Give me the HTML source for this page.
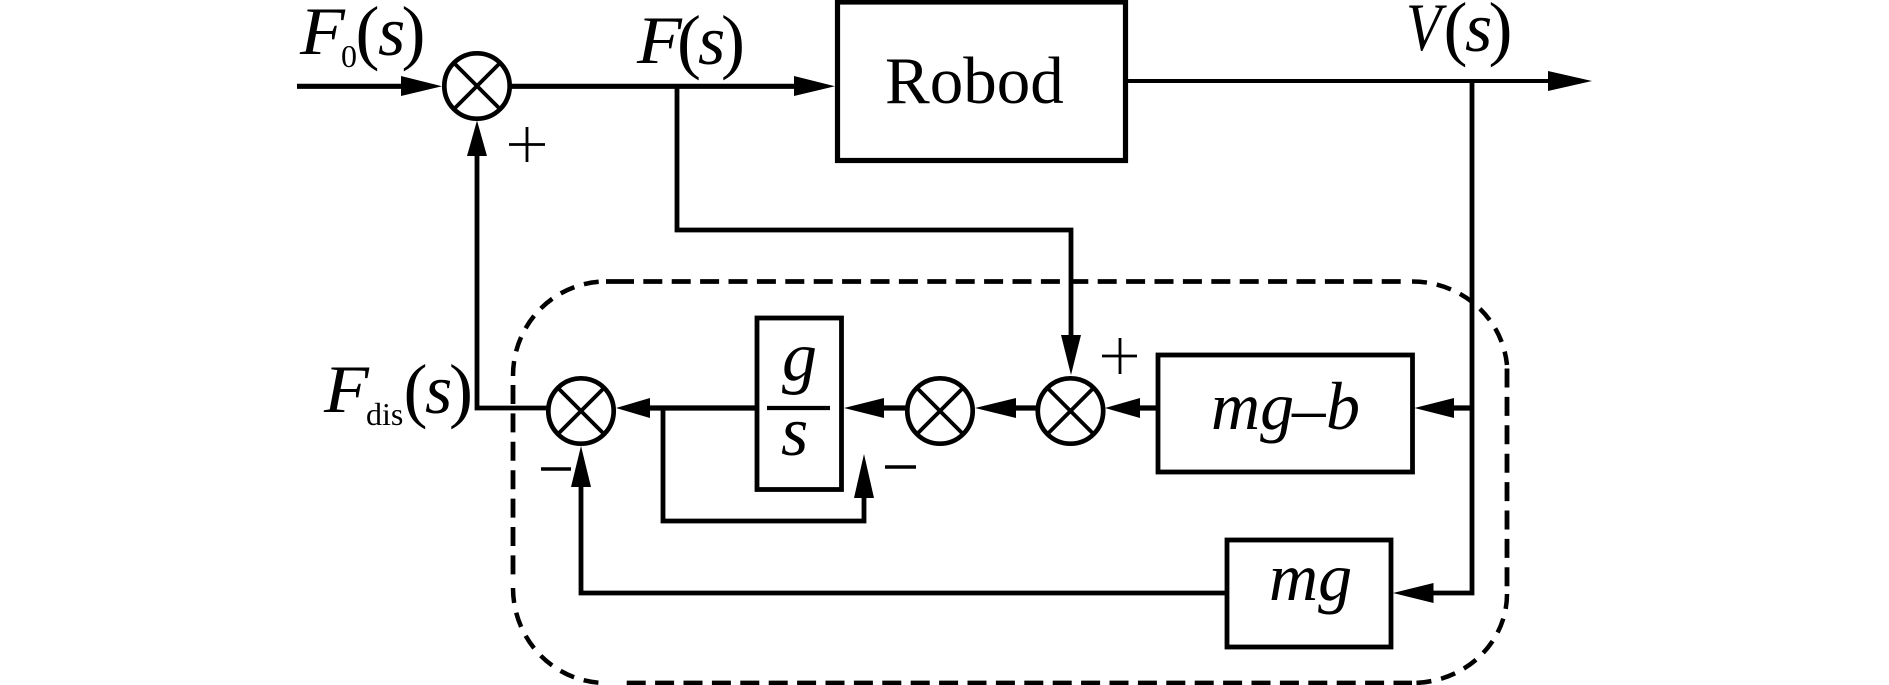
<!DOCTYPE html>
<html>
<head>
<meta charset="utf-8">
<style>
html,body{margin:0;padding:0;background:#fff;width:1889px;height:685px;overflow:hidden}
svg{display:block}
text{font-family:"Liberation Serif",serif;fill:#000}
.i{font-style:italic;font-size:68px}
.s{font-style:italic;font-size:70px}
.p{font-size:72px}
.sub{font-size:32px}
.l{stroke:#000;stroke-width:4.8;fill:none}
.h{stroke:#000;stroke-width:5.200;fill:none}
.c{stroke:#000;stroke-width:4.7;fill:#fff}
.x{stroke:#000;stroke-width:3.8;fill:none}
.t{stroke:#000;stroke-width:2.8;fill:none}
.d{stroke:#000;stroke-width:4.8;fill:none;stroke-dasharray:19 9.4}
.a{stroke:#000;stroke-width:4.5;fill:none;stroke-dasharray:15 10}
</style>
</head>
<body>
<svg width="1889" height="685" viewBox="0 0 1889 685" xmlns="http://www.w3.org/2000/svg">
<rect width="1889" height="685" fill="#fff"/>
<!-- dashed container -->
<path class="d" d="M643.300 281.500H1410"/>
<path class="d" d="M606 281.500H634" style="stroke-dasharray:none"/>
<path class="d" d="M626.700 683H1412"/>
<path class="d" d="M513 385V583"/>
<path class="d" d="M1507 368.500V590"/>
<path class="a" d="M513 376A93 94 0 0 1 606 281.500"/>
<path class="a" d="M1412 281.500A95 92 0 0 1 1507 365"/>
<path class="a" d="M513 588A93 95 0 0 0 606 683"/>
<path class="a" d="M1507 594A95 89 0 0 1 1412 683"/>

<!-- lines -->
<path class="h" d="M297 86.300H420"/>
<path class="h" d="M510 86.300H800"/>
<path class="l" d="M677 86V230H1071V340"/>
<path stroke="#000" stroke-width="3.900" d="M1128 81H1552"/>
<path class="l" d="M1472 81V593H1430"/>
<path class="h" d="M1472 408H1450"/>
<path class="l" d="M477 150V408H548"/>
<path class="h" d="M645 408H758"/>
<path class="l" d="M663 408V521H864V490"/>
<path class="h" d="M880 408H908"/>
<path class="h" d="M1010 408H1038"/>
<path class="h" d="M1135 408H1158"/>
<path class="l" d="M581 480V593H1227"/>

<!-- boxes -->
<rect class="h" x="837.500" y="2" width="288" height="158.500" fill="#fff"/>
<rect class="l" x="757" y="318" width="84.500" height="171.500"/>
<path stroke="#000" stroke-width="4.300" d="M767 408H830"/>
<rect class="l" x="1158" y="355" width="254.500" height="117"/>
<rect class="l" x="1227" y="540" width="164" height="107"/>

<!-- summing junctions -->
<circle class="c" cx="477" cy="86" r="32.700"/>
<path class="x" d="M454.500 63.500L499.500 108.500M499.500 63.500L454.500 108.500"/>
<circle class="c" cx="581" cy="411" r="32.700"/>
<path class="x" d="M558.500 388.500L603.500 433.500M603.500 388.500L558.500 433.500"/>
<circle class="c" cx="940" cy="411" r="32.700"/>
<path class="x" d="M917.500 388.500L962.500 433.500M962.500 388.500L917.500 433.500"/>
<circle class="c" cx="1070.500" cy="411" r="32.700"/>
<path class="x" d="M1048 388.500L1093 433.500M1093 388.500L1048 433.500"/>

<!-- arrowheads -->
<polygon points="442,86.300 401,76 401,96"/>
<polygon points="835,86.300 794,76 794,96"/>
<polygon points="1592,81 1548,71 1548,91"/>
<polygon points="477,120.500 467,156 487,156"/>
<polygon points="1071,375 1061,335 1081,335"/>
<polygon points="616,408 650,398 650,418"/>
<polygon points="844,408 884,398 884,418"/>
<polygon points="975,408 1016,398 1016,418"/>
<polygon points="1105,408 1140,398 1140,418"/>
<polygon points="1414.500,408 1454,398 1454,418"/>
<polygon points="1393,593 1433.500,583 1433.500,603"/>
<polygon points="581,446 571,487 591,487"/>
<polygon points="864,454 854,498 874,498"/>

<!-- signs -->
<path class="t" d="M509 144.500H545M527 127V162"/>
<path class="t" d="M1102 356H1137M1120 338V374"/>
<path stroke="#000" stroke-width="3.600" d="M541 469H571"/>
<path stroke="#000" stroke-width="3.600" d="M885 467H916"/>

<!-- labels -->
<text class="i" transform="translate(300,54) scale(1.08,1)">F</text>
<text class="sub" x="341" y="67">0</text>
<text class="p" x="355.500" y="56">(</text>
<text class="s" x="378" y="55">s</text>
<text class="p" x="401.500" y="56">)</text>

<text class="i" transform="translate(637,63) scale(1.08,1)">F</text>
<text class="p" x="677" y="65">(</text>
<text class="s" x="698" y="64">s</text>
<text class="p" x="721" y="65">)</text>

<text class="i" transform="translate(1406,50) scale(.85,1)">V</text>
<text class="p" x="1443.500" y="52">(</text>
<text class="s" x="1465" y="51">s</text>
<text class="p" x="1488.500" y="52">)</text>

<text style="font-size:67px" x="885" y="103">Robod</text>

<text class="i" transform="translate(324,412) scale(1.08,1)">F</text>
<text class="sub" x="366" y="425">dis</text>
<text class="p" x="403.500" y="414">(</text>
<text class="s" x="425" y="413">s</text>
<text class="p" x="449" y="414">)</text>

<text class="i" style="font-size:70px" x="782" y="380">g</text>
<text class="s" x="781" y="455">s</text>

<text class="i" x="1211" y="429">mg</text>
<text style="font-size:67px" x="1292" y="431">–</text>
<text class="i" x="1326" y="429">b</text>
<text class="i" x="1269" y="600">mg</text>
</svg>
</body>
</html>
